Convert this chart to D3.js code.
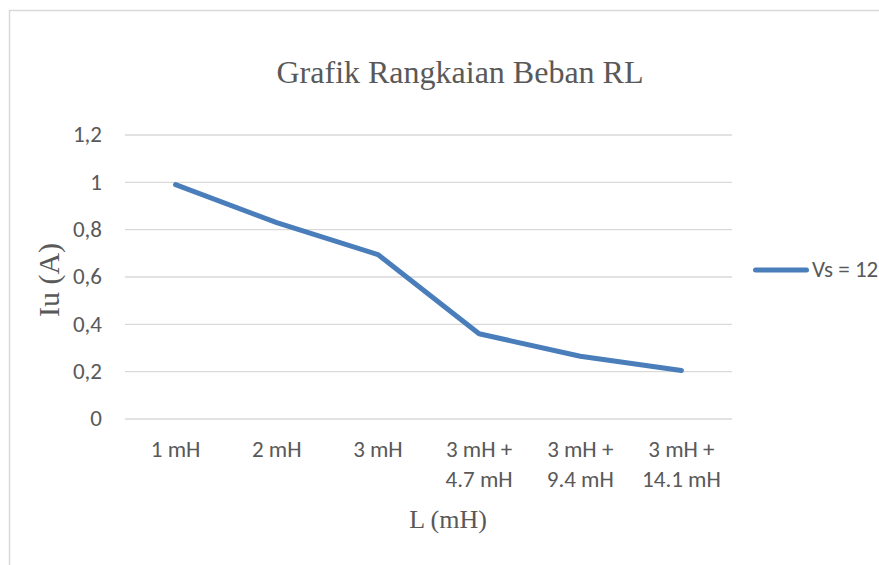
<!DOCTYPE html>
<html>
<head>
<meta charset="utf-8">
<script src="https://cdn.jsdelivr.net/npm/d3@7/dist/d3.min.js"></script>
<style>
  body { margin: 0; background: #fff; }
  text { fill: #595959; }
</style>
</head>
<body>
<div id="chart"></div>
<script>
// chart data
const categories = [["1 mH"], ["2 mH"], ["3 mH"], ["3 mH +", "4.7 mH"], ["3 mH +", "9.4 mH"], ["3 mH +", "14.1 mH"]];
const current = [0.99, 0.83, 0.695, 0.36, 0.265, 0.205];
const yTicks = [0, 0.2, 0.4, 0.6, 0.8, 1, 1.2];
const seriesName = "Vs = 12 V";

const width = 879, height = 565;
const plot = { left: 125, right: 732, top: 135, bottom: 419 };
const blue = "#4a7ebb";
const labelFont = "Carlito, 'Liberation Sans', sans-serif";
const serif = "'Liberation Serif', 'Times New Roman', serif";

const svg = d3.select("#chart").append("svg")
  .attr("width", width)
  .attr("height", height);

// chart area border
svg.append("rect")
  .attr("x", 9.5).attr("y", 10.5)
  .attr("width", 900).attr("height", 600)
  .attr("fill", "none")
  .attr("stroke", "#d9d9d9")
  .attr("stroke-width", 1.5);

const x = d3.scaleBand()
  .domain(d3.range(categories.length))
  .range([plot.left, plot.right]);

const y = d3.scaleLinear()
  .domain([0, 1.2])
  .range([plot.bottom, plot.top]);

// gridlines
svg.append("g")
  .selectAll("line")
  .data(yTicks)
  .join("line")
  .attr("x1", plot.left).attr("x2", plot.right)
  .attr("y1", d => y(d)).attr("y2", d => y(d))
  .attr("stroke", "#d9d9d9")
  .attr("stroke-width", 1.3);

// y tick labels
svg.append("g")
  .selectAll("text")
  .data(yTicks)
  .join("text")
  .attr("x", 102)
  .attr("y", d => y(d))
  .attr("dy", "0.32em")
  .attr("text-anchor", "end")
  .style("font-family", labelFont)
  .style("font-size", "23px")
  .text(d => String(d).replace(".", ","));

// x tick labels
const xl = svg.append("g")
  .selectAll("text")
  .data(categories)
  .join("text")
  .attr("x", (d, i) => x(i) + x.bandwidth() / 2)
  .attr("y", 457)
  .attr("text-anchor", "middle")
  .style("font-family", labelFont)
  .style("font-size", "23px");
xl.selectAll("tspan")
  .data(d => d)
  .join("tspan")
  .attr("x", function() { return d3.select(this.parentNode).attr("x"); })
  .attr("dy", (d, i) => i === 0 ? 0 : 30)
  .text(d => d);

// line
const line = d3.line()
  .x((d, i) => x(i) + x.bandwidth() / 2)
  .y(d => y(d));

svg.append("path")
  .datum(current)
  .attr("d", line)
  .attr("fill", "none")
  .attr("stroke", blue)
  .attr("stroke-width", 5)
  .attr("stroke-linecap", "round")
  .attr("stroke-linejoin", "round");

// title
svg.append("text")
  .attr("x", 460).attr("y", 83)
  .attr("text-anchor", "middle")
  .style("font-family", serif)
  .style("font-size", "32px")
  .text("Grafik Rangkaian Beban RL");

// axis titles
svg.append("text")
  .attr("transform", "translate(59,280) rotate(-90)")
  .attr("text-anchor", "middle")
  .style("font-family", serif)
  .style("font-size", "30px")
  .text("Iu (A)");

svg.append("text")
  .attr("x", 448).attr("y", 528)
  .attr("text-anchor", "middle")
  .style("font-family", serif)
  .style("font-size", "26px")
  .text("L (mH)");

// legend
svg.append("line")
  .attr("x1", 755.5).attr("x2", 806.5)
  .attr("y1", 270).attr("y2", 270)
  .attr("stroke", blue)
  .attr("stroke-width", 5)
  .attr("stroke-linecap", "round");

svg.append("text")
  .attr("x", 812).attr("y", 270)
  .attr("dy", "0.32em")
  .style("font-family", labelFont)
  .style("font-size", "23px")
  .text(seriesName);
</script>
</body>
</html>
